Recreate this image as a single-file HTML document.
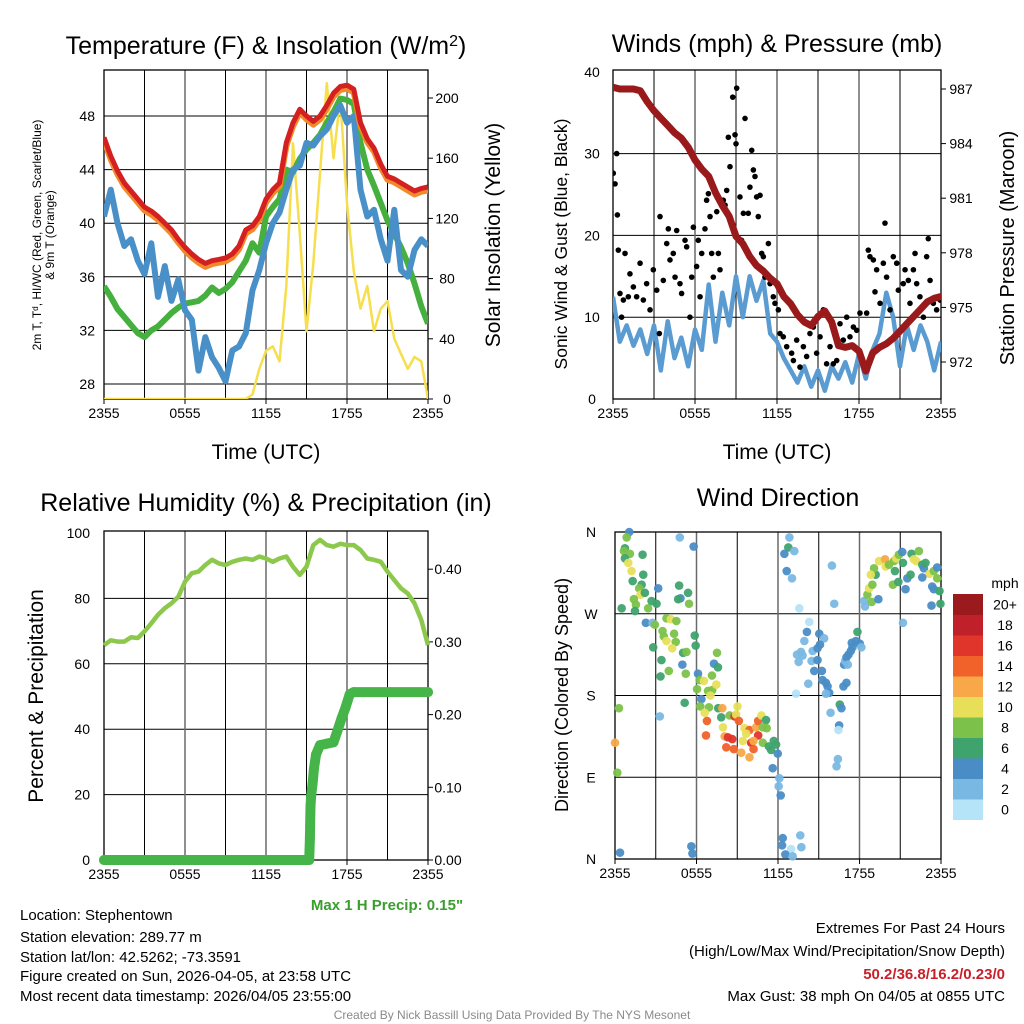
<!DOCTYPE html>
<html><head><meta charset="utf-8"><style>
html,body{margin:0;padding:0;background:#fff;}
svg{display:block;font-family:"Liberation Sans",Arial,sans-serif;}
</style></head><body>
<svg id="fig" width="1024" height="1024" viewBox="0 0 1024 1024" xmlns="http://www.w3.org/2000/svg"></svg>
<script>
// ---------- DATA ----------
const halfHours = [0,0.5,1,1.5,2,2.5,3,3.5,4,4.5,5,5.5,6,6.5,7,7.5,8,8.5,9,9.5,10,10.5,11,11.5,12,12.5,13,13.5,14,14.5,15,15.5,16,16.5,17,17.5,18,18.5,19,19.5,20,20.5,21,21.5,22,22.5,23,23.5,24];
const xTickLabels = ["2355","0555","1155","1755","2355"];
const tempTicks = [28,32,36,40,44,48];
const solarTicks = [0,40,80,120,160,200];
const windTicks = [0,10,20,30,40];
const pressTicks = [972,975,978,981,984,987];
const rhTicks = [0,20,40,60,80,100];
const precipTicks = [0,0.1,0.2,0.3,0.4];
const dirTickLabels = ["N","E","S","W","N"];
const dirTickDeg = [0,90,180,270,360];
const speedBins = ["0","2","4","6","8","10","12","14","16","18","20+"];

const tempRed = [46.4,45.0,43.9,43.0,42.4,41.8,41.2,40.9,40.5,40.0,39.5,38.8,38.2,37.7,37.3,37.0,37.2,37.3,37.4,37.7,38.3,39.5,39.8,40.5,41.8,42.5,43.0,46.0,47.5,48.5,48.0,47.6,48.0,48.8,49.7,50.2,50.3,50.0,47.5,46.3,45.6,44.4,43.5,43.3,43.0,42.7,42.4,42.6,42.7];
const dewGreen = [35.3,34.5,33.6,33.0,32.4,31.8,31.5,32.0,32.3,32.8,33.3,33.7,34.0,34.1,34.2,34.6,35.2,34.8,35.1,35.6,36.4,37.2,38.5,37.8,40.5,41.2,41.8,44.0,43.8,44.8,45.5,46.0,46.6,47.5,48.3,49.3,49.2,48.9,46.0,44.0,42.8,41.5,40.2,39.2,38.2,37.0,35.5,33.8,32.5];
const windChillBlue = [40.5,42.5,40.0,38.3,38.8,37.2,36.2,38.5,34.5,36.8,34.2,35.8,33.5,32.8,29.0,31.5,30.0,29.2,28.2,30.5,30.8,31.8,35.0,36.5,38.5,40.0,40.8,42.5,44.0,44.3,46.0,45.8,46.5,47.0,48.0,48.8,47.5,48.0,42.5,40.5,41.0,38.8,37.2,41.0,36.5,36.0,38.0,38.8,38.3];
const solarYellow = [0,0,0,0,0,0,0,0,0,0,0,0,0,0,0,0,0,0,0,0,0,0,3,20,32,35,25,75,170,110,45,90,150,210,160,200,130,85,60,75,45,60,65,40,30,20,28,25,0];

const windBlue = [12.5,7,9,6.5,8.5,5.5,9,3.5,9.5,5,7.5,4,8.5,6,14,7,13,9,15,10,15,12,14.5,8,7,5,3.5,2,4,1.5,3.5,1,4,2.5,4.5,2,5.5,2.5,6,8,13,10,4,9,6,9,7,3.5,7];
const pressMaroon = [987.1,987.0,987.0,987.0,986.9,986.3,985.8,985.4,985.0,984.6,984.3,983.8,983.1,982.6,982.2,981.3,980.6,980.0,978.9,978.5,977.8,977.3,977.0,976.6,976.3,975.6,975.2,974.6,974.2,974.0,974.5,974.8,974.2,972.9,972.8,972.9,972.6,971.5,972.5,972.8,973.0,973.3,973.7,974.1,974.5,974.9,975.3,975.5,975.6];
const gustTimes = [0.02,0.15,0.27,0.32,0.39,0.88,0.51,0.76,0.63,1.24,1.12,1.49,1.73,1.98,2.22,2.46,2.71,2.95,3.20,3.39,3.44,3.68,3.93,4.05,4.17,4.41,4.54,4.66,4.90,5.02,5.27,5.39,5.63,5.76,5.88,6.12,6.24,6.37,6.49,6.73,6.85,6.98,7.10,7.22,7.34,7.59,7.71,7.83,8.07,8.20,8.32,8.44,8.56,8.76,8.93,9.00,9.05,9.29,9.41,9.54,9.66,9.78,9.90,10.02,10.15,10.27,10.39,10.51,10.63,10.76,10.88,11.0,11.12,11.37,11.49,11.73,11.85,12.10,12.22,12.46,12.71,13.07,13.2,13.44,13.68,13.93,14.17,14.41,14.66,14.9,15.15,15.39,15.63,15.88,16.12,16.37,16.61,16.85,17.1,17.34,17.59,17.83,18.07,18.56,18.68,18.8,19.05,19.17,19.29,19.54,19.78,19.9,20.02,20.27,20.51,20.76,20.88,21.24,21.37,21.61,21.73,21.98,22.1,22.22,22.46,22.71,22.95,23.07,23.2,23.44,23.68,23.93];
const gustValues = [27.6,26.3,30.0,22.5,18.2,17.8,12.9,12.1,10.0,15.3,12.5,13.7,12.5,16.6,12.1,14.1,10.9,15.8,13.3,8.0,22.3,14.5,19.0,20.8,17.0,17.8,14.9,20.6,14.1,12.9,19.4,18.6,10.0,14.9,21.0,16.2,19.4,12.5,17.8,20.8,24.3,25.1,22.3,17.8,14.9,22.9,17.8,15.8,24.3,23.7,25.5,32.0,28.4,36.9,32.3,31.2,38.0,24.7,19.4,22.7,34.3,18.2,22.7,25.9,30.4,28.0,27.2,24.7,22.3,24.9,17.8,17.4,14.9,19.0,14.1,12.5,11.7,10.9,8.0,7.6,6.4,5.6,4.7,7.2,3.9,6.4,5.2,8.0,8.8,5.6,7.6,10.9,4.3,6.4,4.3,4.7,9.2,7.2,10.0,7.6,8.8,8.4,10.5,10.5,18.2,17.4,17.0,13.1,15.8,11.7,16.6,21.5,14.9,10.9,17.4,16.6,13.3,14.1,15.8,14.5,11.7,15.8,17.8,14.1,12.5,10.0,17.4,19.6,14.5,11.7,10.9,12.1];

const rhValues = [65.7,67.2,66.8,66.8,68.1,67.9,69.9,72.4,75.0,77.0,78.5,80.5,85.1,87.7,88.2,90.2,91.8,90.7,90.2,91.2,91.8,92.2,91.8,92.8,92.2,91.2,92.2,92.8,89.7,87.2,89.7,96.3,97.9,96.3,95.8,96.7,96.3,96.3,94.8,92.2,91.8,91.2,88.2,85.6,83.1,81.5,78.5,73.4,65.7];
const precipTimes = [0,15.2,15.25,15.27,15.3,15.35,15.45,15.55,15.7,16.0,16.5,17.0,17.3,17.6,17.9,18.2,18.5,24];
const precipValues = [0,0,0.03,0.046,0.074,0.089,0.105,0.125,0.145,0.158,0.16,0.162,0.178,0.195,0.21,0.228,0.231,0.231];

const dirTimes = [1.05,0.86,0.73,0.66,1.10,2.03,0.73,0.98,1.22,2.08,1.30,1.96,1.78,3.18,4.72,1.88,2.20,1.39,1.54,2.69,2.44,3.06,4.82,5.38,5.45,0.49,1.47,4.65,4.77,5.79,
2.27,2.76,2.93,3.79,4.11,4.52,3.50,4.35,3.59,3.79,4.47,4.21,2.81,5.01,5.26,5.87,5.94,7.51,3.42,4.96,3.96,5.21,3.35,6.11,7.29,7.58,6.23,6.55,7.14,6.04,6.85,7.16,7.46,7.02,6.36,5.13,6.28,6.92,7.60,7.90,3.30,0.29,
9.02,6.60,7.82,8.44,8.80,8.92,9.12,6.77,7.95,9.54,9.90,10.39,10.54,10.78,11.12,10.88,11.17,6.70,8.07,8.31,8.63,9.66,10.54,9.41,10.02,10.20,10.88,11.32,11.69,11.86,11.49,8.19,8.75,9.29,9.90,10.20,11.98,0.0,0.17,11.61,12.10,12.05,12.20,0.37,5.62,5.70,12.35,12.30,12.96,13.64,13.72,12.54,13.08,
12.84,12.76,13.20,12.47,12.64,13.03,15.97,13.57,16.14,14.30,14.13,15.04,15.40,13.94,13.69,14.55,13.40,13.81,14.47,14.91,13.52,14.67,15.23,15.09,14.91,15.28,15.53,15.65,15.77,15.53,13.33,14.23,15.87,16.55,16.67,16.50,16.45,16.41,16.31,16.87,16.94,17.04,17.19,17.36,17.48,17.43,17.73,18.02,17.85,18.14,17.04,16.82,17.14,
18.34,18.41,18.90,19.39,18.58,18.70,18.95,19.19,19.07,18.83,19.44,19.88,19.93,20.17,20.54,20.71,20.90,21.15,21.20,20.61,20.46,20.86,21.39,21.52,21.83,22.00,22.18,22.37,22.62,22.74,22.86,23.15,23.47,23.72,22.62,23.35,23.47,23.30,23.96,23.89,21.20,23.72,21.76];
const dirDegrees = [360,354,342,339,336,335,331,326,317,313,306,302,298,298,301,291,293,286,280,284,276,281,287,293,281,276,273,286,354,344,
260,260,258,265,264,262,251,248,245,240,239,232,233,227,228,246,235,227,219,214,207,204,201,204,215,211,197,196,202,187,185,186,192,180,176,172,168,167,166,166,157,166,
168,161,156,158,157,159,152,152,145,144,142,145,152,158,153,145,144,136,135,134,132,138,136,130,128,130,128,124,130,126,120,123,121,117,112,121,116,128,95,100,89,80,70,7,14,6,23,15,11,26,13,5,3,
354,343,339,336,317,309,323,276,281,261,250,248,243,240,228,229,225,224,218,219,217,207,207,236,232,197,194,190,183,182,182,193,161,170,166,147,142,110,102,214,218,222,225,229,233,238,240,237,250,233,194,190,214,
284,278,283,286,291,298,302,313,320,313,328,330,322,324,328,331,335,338,326,317,302,305,297,309,336,330,328,339,324,320,326,314,317,321,310,300,297,279,281,295,260,309,313];
const dirSpeeds = [5,9,7,9,9,7,7,11,11,7,7,7,9,5,7,11,7,9,9,7,9,7,5,7,9,7,7,7,3,5,
5,3,9,9,11,9,9,9,9,11,9,11,7,7,9,7,7,9,7,5,9,9,7,5,5,7,9,11,9,9,9,9,11,11,5,7,9,9,7,13,3,9,
11,11,7,9,17,11,15,15,11,11,15,13,15,11,7,9,9,15,13,17,17,11,17,11,17,13,9,7,7,7,7,15,15,13,13,15,5,13,9,5,3,3,5,5,5,5,5,5,1,3,3,5,3,
3,7,3,5,5,3,3,1,3,1,5,5,3,3,3,3,3,3,3,5,3,5,5,5,5,5,5,5,5,3,1,3,3,7,5,5,1,3,3,5,3,5,5,5,5,5,5,5,7,3,5,5,3,
3,3,9,5,9,11,9,7,9,11,11,13,11,9,9,11,9,5,7,7,9,7,5,5,7,11,11,9,7,5,7,11,9,5,5,5,5,5,7,7,3,9,7];
const binColors = ["#b5e3f7","#7ab8e4","#4a8dc6","#3fa36e","#7cc24a","#e8df58","#f8a848","#f0622a","#e0352b","#c0202a","#9b1a1e"];

// ---------- HELPERS ----------
const NS = "http://www.w3.org/2000/svg";
const svg = document.getElementById("fig");
function el(tag, attrs, parent, text){
  const e = document.createElementNS(NS, tag);
  for (const k in attrs) e.setAttribute(k, attrs[k]);
  if (text !== undefined) e.textContent = text;
  (parent || svg).appendChild(e);
  return e;
}
function group(name){
  const g = document.createElementNS(NS, "g");
  
  
  svg.appendChild(g);
  return g;
}
function linePath(times, vals, xf, yf){
  let d = "";
  for (let i=0;i<times.length;i++){ d += (i? "L":"M") + xf(times[i]).toFixed(1) + "," + yf(vals[i]).toFixed(1); }
  return d;
}
function panelFrame(g, x0, x1, y0, y1, hLinesY){
  hLinesY.forEach(y => el("line",{x1:x0,x2:x1,y1:y,y2:y,stroke:"#000","stroke-width":1},g));
  for (let h=3; h<24; h+=3){
    const x = x0 + (x1-x0)*h/24;
    el("line",{x1:x,x2:x,y1:y0,y2:y1,stroke:(h%6===0?"#6a6a6a":"#000"),"stroke-width":(h%6===0?1.5:1)},g);
  }
  el("rect",{x:x0,y:y0,width:x1-x0,height:y1-y0,fill:"none",stroke:"#000","stroke-width":1.3},g);
  xTickLabels.forEach((lab,i)=>{
    const x = x0 + (x1-x0)*i/4;
    el("line",{x1:x,x2:x,y1:y1,y2:y1+5,stroke:"#000"},g);
    const t = el("text",{x:x,y:y1+19,"text-anchor":"middle","font-size":14},g,lab);
    
    
  });
}
function txt(g, name, x, y, s, size, opts){
  const a = Object.assign({x:x,y:y,"font-size":size}, opts||{});
  const t = el("text",a,g,s);
  
  
  return t;
}

// ---------- PANEL 1 ----------
(function(){
  const g = group("temperature-insolation-panel");
  const x0=104,x1=428,y0=70,y1=399;
  const xf = t => x0 + (x1-x0)*t/24;
  const yT = v => 384 - (v-28)*13.4;
  const yS = v => 399 - v*1.505;
  panelFrame(g,x0,x1,y0,y1,tempTicks.map(yT));
  tempTicks.forEach(v=>txt(g,"temp-tick-label",95,yT(v)+5,String(v),14,{"text-anchor":"end"}));
  solarTicks.forEach(v=>{ el("line",{x1:x1,x2:x1+5,y1:yS(v),y2:yS(v),stroke:"#000"},g); txt(g,"solar-tick-label",447,yS(v)+5,String(v),14,{"text-anchor":"middle"}); });
  const cp = el("clipPath",{id:"c1"},g); el("rect",{x:x0,y:y0,width:x1-x0,height:y1-y0},cp);
  const s = el("g",{"clip-path":"url(#c1)"},g);
  let p;
  p = el("path",{d:linePath(halfHours,solarYellow,xf,yS),fill:"none",stroke:"#f6de4c","stroke-width":2.5,"stroke-linejoin":"round"},s);  
  p = el("path",{d:linePath(halfHours,dewGreen,xf,yT),fill:"none",stroke:"#45b03e","stroke-width":6,"stroke-linejoin":"round"},s);  
  p = el("path",{d:linePath(halfHours,windChillBlue,xf,yT),fill:"none",stroke:"#4a90c8","stroke-width":6,"stroke-linejoin":"round"},s);  
  p = el("path",{d:linePath(halfHours,tempRed.map(v=>v-0.25),xf,yT),fill:"none",stroke:"#f08a2a","stroke-width":6,"stroke-linejoin":"round"},s);  
  p = el("path",{d:linePath(halfHours,tempRed,xf,yT),fill:"none",stroke:"#d42020","stroke-width":5,"stroke-linejoin":"round"},s);  
  const t = txt(g,"panel-title",266,54,"Temperature (F) & Insolation (W/m",25,{"text-anchor":"middle"});
  el("tspan",{"baseline-shift":"super","font-size":16},t,"2");
  el("tspan",{},t,")");
  txt(g,"x-axis-title",266,459,"Time (UTC)",21,{"text-anchor":"middle"});
  txt(g,"y-axis-title-line1",0,0,"2m T, T\u1d48, HI/WC (Red, Green, Scarlet/Blue)",12,{"text-anchor":"middle",transform:"translate(41,235) rotate(-90)"});
  txt(g,"y-axis-title-line2",0,0,"& 9m T (Orange)",12,{"text-anchor":"middle",transform:"translate(54,235) rotate(-90)"});
  txt(g,"y2-axis-title",0,0,"Solar Insolation (Yellow)",21,{"text-anchor":"middle",transform:"translate(500,235) rotate(-90)"});
})();

// ---------- PANEL 2 ----------
(function(){
  const g = group("winds-pressure-panel");
  const x0=613,x1=941,y0=70,y1=399;
  const xf = t => x0 + (x1-x0)*t/24;
  const yW = v => 399 - v*8.18;
  const yP = p => 89 + (987-p)*18.2;
  panelFrame(g,x0,x1,y0,y1,windTicks.slice(1,4).map(yW));
  windTicks.forEach(v=>txt(g,"wind-tick-label",592,yW(v)+5,String(v),14,{"text-anchor":"middle"}));
  pressTicks.forEach(v=>{ el("line",{x1:x1,x2:x1+5,y1:yP(v),y2:yP(v),stroke:"#000"},g); txt(g,"pressure-tick-label",961,yP(v)+5,String(v),14,{"text-anchor":"middle"}); });
  const cp = el("clipPath",{id:"c2"},g); el("rect",{x:x0,y:y0,width:x1-x0,height:y1-y0},cp);
  const s = el("g",{"clip-path":"url(#c2)"},g);
  let p = el("path",{d:linePath(halfHours,windBlue,xf,yW),fill:"none",stroke:"#5a9bd2","stroke-width":4.5,"stroke-linejoin":"round"},s);
   
  gustTimes.forEach((t,i)=>{
    const c = el("circle",{cx:xf(t),cy:yW(gustValues[i]),r:2.8,fill:"#000"},s);
    
    
  });
  p = el("path",{d:linePath(halfHours,pressMaroon,xf,yP),fill:"none",stroke:"#9a1a1c","stroke-width":7,"stroke-linejoin":"round","stroke-linecap":"round"},s);
   
  txt(g,"panel-title",777,52,"Winds (mph) & Pressure (mb)",25,{"text-anchor":"middle"});
  txt(g,"x-axis-title",777,459,"Time (UTC)",21,{"text-anchor":"middle"});
  txt(g,"y-axis-title",0,0,"Sonic Wind & Gust (Blue, Black)",17.5,{"text-anchor":"middle",transform:"translate(567,244) rotate(-90)"});
  txt(g,"y2-axis-title",0,0,"Station Pressure (Maroon)",20,{"text-anchor":"middle",transform:"translate(1014,248) rotate(-90)"});
})();

// ---------- PANEL 3 ----------
(function(){
  const g = group("humidity-precip-panel");
  const x0=104,x1=428,y0=531,y1=860;
  const xf = t => x0 + (x1-x0)*t/24;
  const yR = v => 860 - v*3.27;
  const yPr = v => 860 - v*727;
  panelFrame(g,x0,x1,y0,y1,rhTicks.slice(1,5).map(yR));
  rhTicks.forEach(v=>txt(g,"rh-tick-label",90,yR(v)+5,String(v),14,{"text-anchor":"end"}));
  precipTicks.forEach(v=>{ el("line",{x1:x1,x2:x1+5,y1:yPr(v),y2:yPr(v),stroke:"#000"},g); txt(g,"precip-tick-label",448,yPr(v)+5,v.toFixed(2),14,{"text-anchor":"middle"}); });
  let p = el("path",{d:linePath(halfHours,rhValues,xf,yR),fill:"none",stroke:"#8cc84b","stroke-width":4.5,"stroke-linejoin":"round"},g);
   
  p = el("path",{d:linePath(precipTimes,precipValues,xf,yPr),fill:"none",stroke:"#46b549","stroke-width":10,"stroke-linejoin":"round","stroke-linecap":"round"},g);
   
  precipTimes.forEach((t,i)=>{
    const c = el("circle",{cx:xf(t),cy:yPr(precipValues[i]),r:5,fill:"#46b549"},g);
    
    
  });
  txt(g,"panel-title",266,511,"Relative Humidity (%) & Precipitation (in)",25,{"text-anchor":"middle"});
  txt(g,"y-axis-title",0,0,"Percent & Precipitation",21,{"text-anchor":"middle",transform:"translate(43,696) rotate(-90)"});
  txt(g,"max-precip-label",387,910,"Max 1 H Precip: 0.15\"",15,{"text-anchor":"middle","font-weight":"bold",fill:"#3a9d2e"});
})();

// ---------- PANEL 4 ----------
(function(){
  const g = group("wind-direction-panel");
  const x0=615,x1=941,y0=532,y1=859;
  const xf = t => x0 + (x1-x0)*t/24;
  const yD = d => y1 - d/360*(y1-y0);
  panelFrame(g,x0,x1,y0,y1,[90,180,270].map(yD));
  dirTickDeg.forEach((d,i)=>txt(g,"direction-tick-label",591,yD(d)+5,dirTickLabels[i],14,{"text-anchor":"middle"}));
  const cp = el("clipPath",{id:"c4"},g); el("rect",{x:x0-5,y:y0-5,width:x1-x0+10,height:y1-y0+10},cp);
  const s = el("g",{"clip-path":"url(#c4)"},g);
  dirTimes.forEach((t,i)=>{
    const b = Math.min(10, Math.floor(dirSpeeds[i]/2));
    const c = el("circle",{cx:xf(t),cy:yD(dirDegrees[i]),r:4.3,fill:binColors[b],"fill-opacity":0.95},s);
    
    
  });
  txt(g,"panel-title",778,506,"Wind Direction",25,{"text-anchor":"middle"});
  txt(g,"y-axis-title",0,0,"Direction (Colored By Speed)",18,{"text-anchor":"middle",transform:"translate(568,695) rotate(-90)"});
  const cb = el("g",{},g);  
  const top=594, bh=20.5;
  speedBins.forEach((lab,i)=>{
    const k = speedBins.length-1-i;
    el("rect",{x:953,y:top+k*bh,width:30,height:bh+0.5,fill:binColors[i]},cb);
    txt(cb,"colorbar-label",1005,top+k*bh+bh/2+5,lab,14,{"text-anchor":"middle"});
  });
  txt(cb,"colorbar-title",1005,588,"mph",14,{"text-anchor":"middle"});
})();

// ---------- FOOTER ----------
(function(){
  const g = group("footer-text");
  const lines = ["Location: Stephentown","Station elevation: 289.77 m","Station lat/lon: 42.5262; -73.3591","Figure created on Sun, 2026-04-05, at 23:58 UTC","Most recent data timestamp: 2026/04/05 23:55:00"];
  const ys = [920,942,962,981,1001];
  lines.forEach((l,i)=>txt(g,"station-info-line",20,ys[i],l,15));
  txt(g,"extremes-title",1005,933,"Extremes For Past 24 Hours",15,{"text-anchor":"end"});
  txt(g,"extremes-legend",1005,956,"(High/Low/Max Wind/Precipitation/Snow Depth)",15,{"text-anchor":"end"});
  txt(g,"extremes-values",1005,979,"50.2/36.8/16.2/0.23/0",15,{"text-anchor":"end","font-weight":"bold",fill:"#c8202a"});
  txt(g,"max-gust",1005,1001,"Max Gust: 38 mph On 04/05 at 0855 UTC",15,{"text-anchor":"end"});
  txt(g,"credit-line",512,1019,"Created By Nick Bassill Using Data Provided By The NYS Mesonet",12,{"text-anchor":"middle",fill:"#8a8a8a"});
})();
</script>
</body></html>
